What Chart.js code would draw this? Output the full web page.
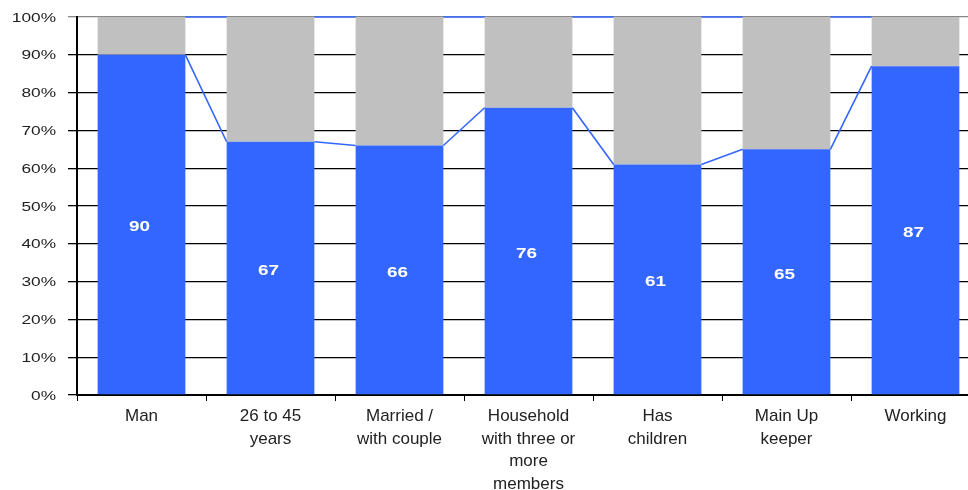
<!DOCTYPE html>
<html>
<head>
<meta charset="utf-8">
<script src="https://cdn.jsdelivr.net/npm/chart.js@4.4.1/dist/chart.umd.min.js"></script>
<style>
  html, body { margin: 0; padding: 0; background: #fff; overflow: hidden; }
  #wrap { width: 990px; height: 490px; }
</style>
</head>
<body>
<div id="wrap"><canvas id="share"></canvas></div>
<script>
const categories = [
  'Man',
  ['26 to 45', 'years'],
  ['Married /', 'with couple'],
  ['Household', 'with three or', 'more', 'members'],
  ['Has', 'children'],
  ['Main Up', 'keeper'],
  'Working'
];
const yesValues = [90, 67, 66, 76, 61, 65, 87];
const restValues = yesValues.map(v => 100 - v);
const yTicks = [0, 10, 20, 30, 40, 50, 60, 70, 80, 90, 100];

const BLUE = '#3366FF';
const GREY = '#C0C0C0';
const FONT = '"Liberation Sans", Arial, sans-serif';

// wide text: glyphs stretched sideways around the anchor point
function wideText(ctx, text, x, y, stretch) {
  ctx.save();
  ctx.translate(x, y);
  ctx.scale(stretch, 1);
  ctx.fillText(text, 0, 0);
  ctx.restore();
}

// lines joining the bar tops across the gaps between bars
const seriesLines = {
  id: 'seriesLines',
  afterDatasetsDraw(chart) {
    const ctx = chart.ctx;
    ctx.save();
    ctx.strokeStyle = BLUE;
    ctx.lineWidth = 1.6;
    [0, 1].forEach(d => {
      const bars = chart.getDatasetMeta(d).data;
      for (let i = 0; i < bars.length - 1; i++) {
        const a = bars[i], b = bars[i + 1];
        ctx.beginPath();
        ctx.moveTo(a.x + a.width / 2, a.y);
        ctx.lineTo(b.x - b.width / 2, b.y);
        ctx.stroke();
      }
    });
    ctx.restore();
  }
};

// value labels in the middle of the blue bars, plus the y axis percentages
const textLabels = {
  id: 'textLabels',
  afterDraw(chart) {
    const ctx = chart.ctx;
    const bars = chart.getDatasetMeta(0).data;
    ctx.save();
    ctx.fillStyle = '#fff';
    ctx.font = 'bold 14px ' + FONT;
    ctx.textAlign = 'center';
    ctx.textBaseline = 'middle';
    bars.forEach((bar, i) => {
      wideText(ctx, String(yesValues[i]), bar.x - 2, (bar.y + bar.base) / 2 + 3, 1.35);
    });

    const y = chart.scales.y;
    ctx.fillStyle = '#222';
    ctx.font = '13px ' + FONT;
    ctx.textAlign = 'right';
    yTicks.forEach(v => {
      wideText(ctx, v + '%', y.right - 21, y.getPixelForValue(v) + 1, 1.33);
    });
    ctx.restore();
  }
};

new Chart(document.getElementById('share'), {
  type: 'bar',
  data: {
    labels: categories,
    datasets: [
      { data: yesValues, backgroundColor: BLUE, borderWidth: 0,
        barPercentage: 0.68, categoryPercentage: 1 },
      { data: restValues, backgroundColor: GREY, borderWidth: 0,
        barPercentage: 0.68, categoryPercentage: 1 }
    ]
  },
  options: {
    responsive: true,
    maintainAspectRatio: false,
    animation: false,
    layout: { padding: { top: 17, right: 10, bottom: 0, left: 0 } },
    plugins: { legend: { display: false }, tooltip: { enabled: false } },
    scales: {
      x: {
        stacked: true,
        afterFit(scale) { scale.height = 95; },
        grid: { drawOnChartArea: false, drawTicks: true, tickLength: 6, color: '#000', offset: true },
        border: { color: '#000', width: 2 },
        ticks: {
          color: '#222',
          font: { family: FONT, size: 17, lineHeight: 1.33 },
          padding: 4,
          maxRotation: 0,
          autoSkip: false
        }
      },
      y: {
        stacked: true,
        min: 0,
        max: 100,
        afterFit(scale) { scale.width = 77; },
        afterBuildTicks(scale) { scale.ticks = yTicks.map(v => ({ value: v })); },
        grid: {
          color: ctx => ctx.tick && ctx.tick.value === 100 ? '#888' : '#000',
          lineWidth: 1.3,
          tickLength: 9
        },
        border: { color: '#000', width: 2 },
        ticks: { display: false }
      }
    }
  },
  plugins: [seriesLines, textLabels]
});
</script>
</body>
</html>
